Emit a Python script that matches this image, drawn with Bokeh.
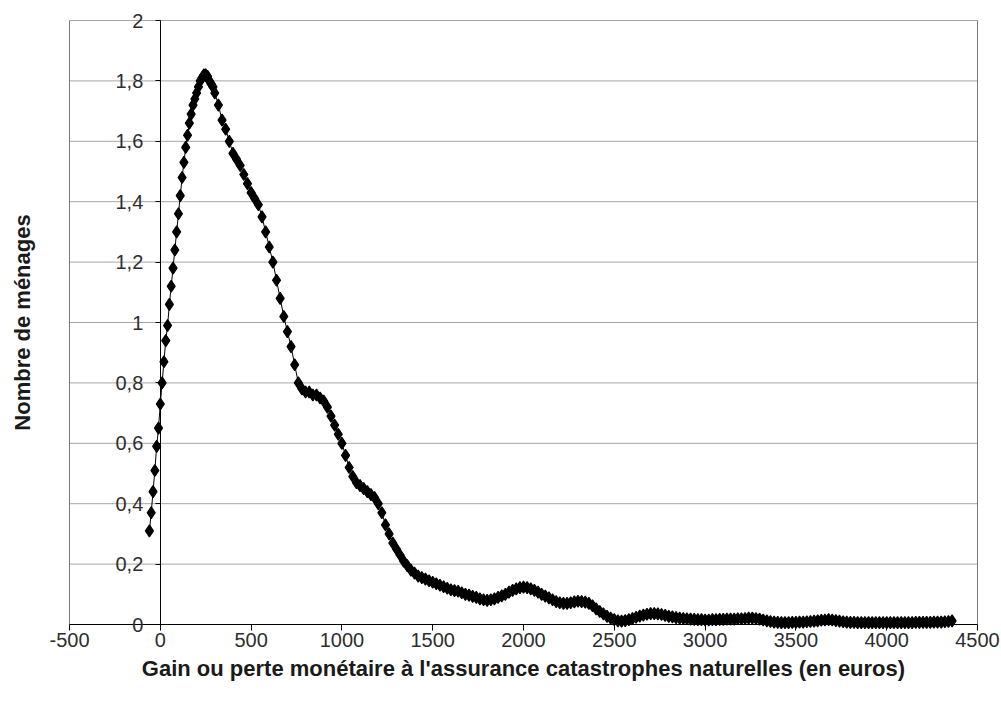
import math
from bokeh.plotting import figure
from bokeh.models import FixedTicker, Range1d, Label
from bokeh.embed import file_html
from bokeh.resources import INLINE

# ---- data ----
# rising part, 10-euro steps from -60 to 290
x_rise = list(range(-60, 300, 10))
y_rise = [0.31, 0.37, 0.44, 0.51, 0.59, 0.65, 0.73, 0.80, 0.87, 0.94,
          0.99, 1.06, 1.12, 1.18, 1.24, 1.30, 1.36, 1.42, 1.48, 1.53,
          1.58, 1.62, 1.66, 1.69, 1.72, 1.74, 1.76, 1.78, 1.80, 1.81,
          1.82, 1.82, 1.815, 1.80, 1.79, 1.78]

# tail, 20-euro steps from 300 on
y_tail = [
    1.76, 1.72, 1.67, 1.64, 1.60, 1.56, 1.54, 1.52, 1.49, 1.46,          # 300-480
    1.43, 1.41, 1.39, 1.35, 1.30, 1.25, 1.20, 1.14, 1.08, 1.02,          # 500-680
    0.97, 0.92, 0.86, 0.80, 0.78, 0.77, 0.77, 0.76, 0.76, 0.75,          # 700-880
    0.74, 0.72, 0.69, 0.66, 0.63, 0.60, 0.56, 0.52, 0.49, 0.47,          # 900-1080
    0.46, 0.45, 0.44, 0.43, 0.42, 0.40, 0.37, 0.33, 0.30, 0.27,          # 1100-1280
    0.25, 0.23, 0.21, 0.195, 0.18, 0.17, 0.16, 0.155, 0.15, 0.145,       # 1300-1480
    0.14, 0.135, 0.13, 0.125, 0.12, 0.115, 0.112, 0.11, 0.105, 0.10,     # 1500-1680
    0.097, 0.093, 0.09, 0.085, 0.082, 0.08, 0.082, 0.085, 0.09, 0.095,   # 1700-1880
    0.10, 0.107, 0.113, 0.118, 0.122, 0.124, 0.122, 0.118, 0.113, 0.107, # 1900-2080
    0.10, 0.094, 0.088, 0.082, 0.076, 0.072, 0.07, 0.07, 0.072, 0.075,   # 2100-2280
    0.077, 0.076, 0.074, 0.07, 0.062, 0.052, 0.043, 0.035, 0.027, 0.021, # 2300-2480
    0.016, 0.012, 0.011, 0.013, 0.016, 0.02, 0.024, 0.028, 0.031, 0.034, # 2500-2680
    0.036, 0.036, 0.035, 0.033, 0.03, 0.027, 0.025, 0.023, 0.021, 0.02,  # 2700-2880
    0.019, 0.018, 0.017, 0.016, 0.016, 0.015, 0.015, 0.016, 0.016, 0.017, # 2900-3080
    0.017, 0.018, 0.018, 0.018, 0.019, 0.019, 0.02, 0.021, 0.021, 0.02, # 3100-3280
    0.018, 0.015, 0.012, 0.01, 0.008, 0.007, 0.006, 0.006, 0.006, 0.007, # 3300-3480
    0.007, 0.008, 0.008, 0.009, 0.01, 0.011, 0.012, 0.014, 0.015, 0.016, # 3500-3680
    0.015, 0.013, 0.011, 0.009, 0.008, 0.007, 0.007, 0.006, 0.006, 0.006, # 3700-3880
    0.006, 0.006, 0.006, 0.006, 0.006, 0.006, 0.006, 0.006, 0.006, 0.006, # 3900-4080
    0.006, 0.006, 0.006, 0.007, 0.007, 0.007, 0.007, 0.007, 0.008, 0.008, # 4100-4280
    0.008, 0.009, 0.010, 0.012,                                          # 4300-4360
]
x_tail = list(range(300, 300 + 20 * len(y_tail), 20))

x_vals = x_rise + x_tail
y_vals = y_rise + y_tail

x_ticks = [-500, 0, 500, 1000, 1500, 2000, 2500, 3000, 3500, 4000, 4500]
x_tick_labels = ["-500", "0", "500", "1000", "1500", "2000", "2500", "3000", "3500", "4000", "4500"]
y_ticks = [0, 0.2, 0.4, 0.6, 0.8, 1, 1.2, 1.4, 1.6, 1.8, 2]
y_tick_labels = ["0", "0,2", "0,4", "0,6", "0,8", "1", "1,2", "1,4", "1,6", "1,8", "2"]

x_title = "Gain ou perte monétaire à l'assurance catastrophes naturelles (en euros)"
y_title = "Nombre de ménages"

FONT = "Liberation Sans"
TICK_COLOR = "#2e2e2e"

# ---- layout: the frame fills the canvas; plot area is -500..4500 x 0..2 ----
W, H = 1001, 711
LEFT, RIGHT, TOP, BOTTOM = 69, 977, 20, 624          # pixel edges of the plot area
X0, X1, Y0, Y1 = x_ticks[0], x_ticks[-1], y_ticks[0], y_ticks[-1]
xs = (X1 - X0) / (RIGHT - LEFT)
ys = (Y1 - Y0) / (BOTTOM - TOP)
x_range = Range1d(X0 - LEFT * xs, X1 + (W - RIGHT) * xs)
y_range = Range1d(Y0 - (H - BOTTOM) * ys, Y1 + TOP * ys)

p = figure(width=W, height=H, output_backend="svg", toolbar_location=None,
           x_range=x_range, y_range=y_range,
           min_border_left=0, min_border_right=0, min_border_top=0, min_border_bottom=0)
p.background_fill_color = "white"
p.border_fill_color = "white"
p.outline_line_color = None
p.xgrid.grid_line_color = None
p.ygrid.grid_line_color = None

# horizontal gridlines across the plot area
p.segment(x0=[X0] * (len(y_ticks) - 1), x1=[X1] * (len(y_ticks) - 1),
          y0=y_ticks[1:], y1=y_ticks[1:], line_color="#a6a6a6", line_width=1)
# plot-area side borders
p.segment(x0=[X0, X1], x1=[X0, X1], y0=[Y0, Y0], y1=[Y1, Y1],
          line_color="#7a7a7a", line_width=1)

# x axis along y = 0
p.xaxis.fixed_location = 0
p.xaxis.bounds = (X0, X1)
p.xaxis.ticker = FixedTicker(ticks=x_ticks)
p.xaxis.major_label_overrides = dict(zip(x_ticks, x_tick_labels))
p.xaxis.axis_line_color = "black"
p.xaxis.major_tick_line_color = "black"
p.xaxis.major_tick_in = 0
p.xaxis.major_tick_out = 6
p.xaxis.minor_tick_line_color = None
p.xaxis.major_label_text_font = FONT
p.xaxis.major_label_text_font_size = "20px"
p.xaxis.major_label_text_color = TICK_COLOR
p.xaxis.major_label_standoff = 2
p.xaxis.axis_label = x_title
p.xaxis.axis_label_text_font = FONT
p.xaxis.axis_label_text_font_size = "22px"
p.xaxis.axis_label_text_font_style = "bold"
p.xaxis.axis_label_text_color = "#1a1a1a"
p.xaxis.axis_label_standoff = 6

# y axis along x = 0
p.yaxis.fixed_location = 0
p.yaxis.bounds = (Y0, Y1)
p.yaxis.ticker = FixedTicker(ticks=y_ticks)
p.yaxis.major_label_overrides = dict(zip(y_ticks, y_tick_labels))
p.yaxis.axis_line_color = "black"
p.yaxis.major_tick_line_color = "black"
p.yaxis.major_tick_in = 0
p.yaxis.major_tick_out = 5
p.yaxis.minor_tick_line_color = None
p.yaxis.major_label_text_font = FONT
p.yaxis.major_label_text_font_size = "20px"
p.yaxis.major_label_text_color = TICK_COLOR
p.yaxis.major_label_standoff = 12

# y title, left of the plot area
p.add_layout(Label(x=X0, y=(Y0 + Y1) / 2, x_offset=-47, text=y_title, angle=math.pi / 2,
                   text_align="center", text_baseline="middle", text_font=FONT,
                   text_font_size="22px", text_font_style="bold", text_color="#1a1a1a"))

p.line(x_vals, y_vals, line_color="black", line_width=1)
p.scatter(x_vals, y_vals, marker="diamond", size=12, fill_color="black", line_color="black",
          line_width=1.2)

open("out.html", "w").write(file_html(p, INLINE))
